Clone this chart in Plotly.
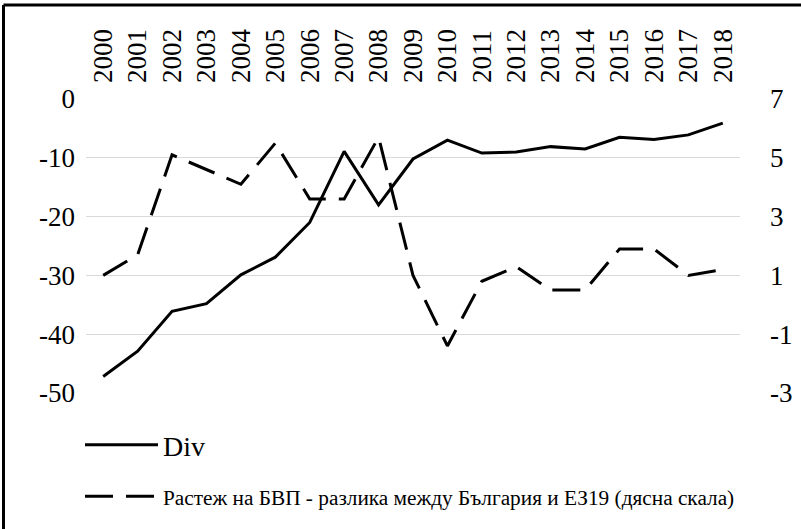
import plotly.graph_objects as go

years = [str(y) for y in range(2000, 2019)]
div_values = [-47.2, -42.9, -36.1, -34.8, -29.9, -26.9, -21.0, -8.9, -18.0, -10.2,
              -7.0, -9.2, -9.0, -8.1, -8.5, -6.5, -6.9, -6.1, -4.1]
gdp_gap = [1.0, 1.7, 5.1, 4.6, 4.1, 5.5, 3.6, 3.6, 5.7, 1.0,
           -1.4, 0.8, 1.3, 0.5, 0.5, 1.9, 1.9, 1.0, 1.2]
left_ticks = [0, -10, -20, -30, -40, -50]
right_ticks = [7, 5, 3, 1, -1, -3]
name_div = "Div"
name_gdp = "Растеж на БВП - разлика между България и ЕЗ19 (дясна скала)"

FONT = "Liberation Serif"

fig = go.Figure()
fig.add_trace(go.Scatter(x=years, y=div_values, mode="lines", name=name_div,
                         line=dict(color="black", width=3), legend="legend", showlegend=True))
fig.add_trace(go.Scatter(x=years, y=gdp_gap, mode="lines", name=name_gdp, yaxis="y2",
                         line=dict(color="black", width=3, dash="28px,13px"), legend="legend2",
                         showlegend=True))

L, R, T, B = 86, 61, 99, 136
W, H = 801, 529
pw = W - L - R
ph = H - T - B

def px_x(x):
    return (x - L) / pw

def px_y(y):
    return (H - B - y) / ph

fig.update_layout(
    width=W, height=H,
    showlegend=True,
    margin=dict(l=L, r=R, t=T, b=B, pad=0, autoexpand=False),
    paper_bgcolor="white", plot_bgcolor="white",
    font=dict(family=FONT, color="black", size=27),
    xaxis=dict(type="category", side="top", tickangle=-90, range=[-0.5, 18.5],
               showgrid=False, showline=False, zeroline=False, ticks="",
               tickfont=dict(family=FONT, size=27), ticklabelstandoff=15,
               automargin=False, fixedrange=True),
    yaxis=dict(range=[-50, 0], tickvals=left_ticks, ticktext=[str(v) for v in left_ticks],
               showgrid=True, gridcolor="#d9d9d9",
               gridwidth=1, zeroline=False, showline=False, ticks="", automargin=False,
               tickfont=dict(family=FONT, size=27), ticklabelstandoff=10),
    yaxis2=dict(range=[-3, 7], tickvals=right_ticks, ticktext=[str(v) for v in right_ticks],
                overlaying="y", side="right", automargin=False,
                showgrid=False, zeroline=False, showline=False, ticks="",
                tickfont=dict(family=FONT, size=27), ticklabelstandoff=29),
    legend=dict(xref="container", yref="container", x=80 / W, y=1 - 420 / H,
                xanchor="left", yanchor="top", itemwidth=73, visible=True,
                font=dict(family=FONT, size=28), bgcolor="rgba(0,0,0,0)"),
    legend2=dict(xref="container", yref="container", x=80 / W, y=1 - 476 / H,
                 xanchor="left", yanchor="top", itemwidth=73, visible=True,
                 font=dict(family=FONT, size=21.3), bgcolor="rgba(0,0,0,0)"),
    shapes=[
        dict(type="line", xref="paper", yref="paper", x0=px_x(3.5), x1=px_x(820),
             y0=px_y(5), y1=px_y(5), line=dict(color="black", width=3)),
        dict(type="line", xref="paper", yref="paper", x0=px_x(3.5), x1=px_x(3.5),
             y0=px_y(5), y1=px_y(560), line=dict(color="black", width=3)),
    ],
)

fig.write_html("out.html", config={"displayModeBar": False},
               post_script="document.body.style.margin='0';document.body.style.overflow='hidden';")
